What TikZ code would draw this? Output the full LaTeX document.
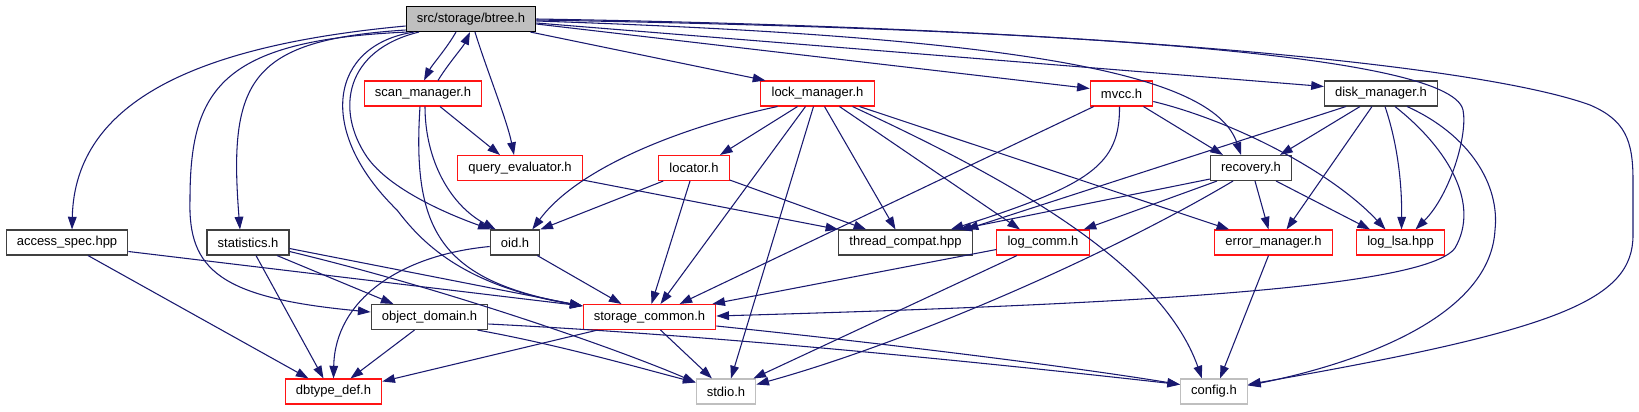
\documentclass[tikz,border=0pt]{standalone}
\usepackage{fontspec}
\newfontfamily\dfont{Liberation Sans}
\usetikzlibrary{arrows.meta,calc}
\definecolor{mblue}{RGB}{25,25,112}
\definecolor{dgray}{RGB}{64,64,64}
\definecolor{lgray}{RGB}{191,191,191}
\definecolor{nred}{RGB}{255,20,20}
\begin{document}
\begin{tikzpicture}[x=0.75pt,y=-0.75pt,
 nd/.style={rectangle,draw,line width=0.8pt,inner xsep=8pt,inner ysep=0pt,minimum height=18.75pt,font=\dfont\fontsize{9.75}{11}\selectfont,text=black,fill=white},
 blk/.style={nd,draw=dgray},
 rd/.style={nd,draw=nred},
 gr/.style={nd,draw=lgray},
 root/.style={nd,draw=black,fill=lgray},
 conn/.style={draw=mblue,line width=0.8pt,-{Triangle[length=9.5pt,width=6.5pt]}}]
\useasboundingbox[fill=white] (0,0) rectangle (1639,411);
% nodes
\node[root] (btree) at (471,19) {src/storage/btree.h};
\node[rd] (scan) at (423,93.5) {scan\_manager.h};
\node[rd] (query) at (520,168) {query\_evaluator.h};
\node[rd] (lock) at (817.5,93.5) {lock\_manager.h};
\node[rd] (locator) at (694,168) {locator.h};
\node[rd] (mvcc) at (1121.5,93.5) {mvcc.h};
\node[blk] (disk) at (1381,93.5) {disk\_manager.h};
\node[blk] (recovery) at (1251,168) {recovery.h};
\node[blk] (access) at (67,242.5) {access\_spec.hpp};
\node[blk] (stats) at (248,242.5) {statistics.h};
\node[blk] (oid) at (515,242.5) {oid.h};
\node[blk] (thread) at (905.5,242.5) {thread\_compat.hpp};
\node[rd] (logcomm) at (1043,242.5) {log\_comm.h};
\node[rd] (errmgr) at (1273.5,242.5) {error\_manager.h};
\node[rd] (loglsa) at (1400.5,242.5) {log\_lsa.hpp};
\node[blk] (objdom) at (429.5,317) {object\_domain.h};
\node[rd] (stcommon) at (649.5,317) {storage\_common.h};
\node[rd] (dbtype) at (333.5,391.5) {dbtype\_def.h};
\node[gr] (stdio) at (726,391.5) {stdio.h};
\node[gr] (config) at (1214,391.5) {config.h};
% btree
\draw[conn] ($(btree.west)+(0,7)$) .. controls (200,45) and (75,100) .. ($(access.north)+(5,0)$);
\draw[conn] ($(btree.west)+(0,11)$) .. controls (250,40) and (228,80) .. ($(stats.north)+(-8,0)$);
\draw[conn] ($(btree.south west)+(2,0)$) .. controls (220,40) and (190,90) .. (190,200) .. controls (188,270) and (220,298) .. ($(objdom.west)+(0,-5)$);
\draw[conn] ($(btree.south)+(-57,0)$) .. controls (330,45) and (315,130) .. (397,210) .. controls (420,240) and (460,285) .. ($(stcommon.north west)+(0,2)$);
\draw[conn] ($(btree.south)+(-52,0)$) .. controls (345,50) and (335,110) .. (367,157) .. controls (390,190) and (450,215) .. ($(oid.north west)+(1,0)$);
\draw[conn] ($(btree.south)+(-15,0)$) .. controls (447,48) and (432,65) .. ($(scan.north)+(1,0)$);
\draw[conn] ($(scan.north)+(15,0)$) .. controls (448,64) and (463,47) .. ($(btree.south)+(-1,0)$);
\draw[conn] ($(btree.south)+(4,0)$) .. controls (485,65) and (507,120) .. ($(query.north)+(-6,0)$);
\draw[conn] ($(btree.south east)+(-6,0)$) -- ($(lock.north west)+(5,0)$);
\draw[conn] ($(btree.east)+(0,5)$) -- ($(mvcc.west)+(0,-5)$);
\draw[conn] ($(btree.east)+(0,4)$) -- ($(disk.west)+(0,-7)$);
\draw[conn] ($(btree.east)+(0,2)$) .. controls (1050,38) and (1215,78) .. ($(recovery.north)+(-10,0)$);
\draw[conn] ($(btree.east)+(0,1)$) .. controls (1000,28) and (1450,50) .. (1463,110) .. controls (1468,135) and (1450,195) .. ($(loglsa.north)+(15,0)$);
\draw[conn] (btree.east) .. controls (1100,28) and (1480,65) .. (1590,105) .. controls (1625,120) and (1633,140) .. (1633,180) -- (1633,235) .. controls (1633,300) and (1560,330) .. ($(config.east)+(0,-7)$);
% scan
\draw[conn] ($(scan.south)+(17,0)$) -- ($(query.north)+(-20,0)$);
\draw[conn] ($(scan.south)+(2,0)$) .. controls (425,160) and (450,205) .. ($(oid.north west)+(6,0)$);
\draw[conn] ($(scan.south)+(-3,0)$) .. controls (412,230) and (440,280) .. ($(stcommon.north west)+(0,2)$);
% query
\draw[conn] ($(query.south east)+(0,-1)$) -- (thread.north west);
% lock
\draw[conn] ($(lock.south)+(-40,0)$) .. controls (690,125) and (580,165) .. ($(oid.north east)+(-8,0)$);
\draw[conn] ($(lock.south)+(-20,0)$) -- ($(locator.north)+(26,0)$);
\draw[conn] ($(lock.south)+(-12,0)$) -- ($(stcommon.north)+(11,0)$);
\draw[conn] ($(lock.south)+(-4,0)$) -- ($(stdio.north)+(5,0)$);
\draw[conn] ($(lock.south)+(7,0)$) -- ($(thread.north)+(-10,0)$);
\draw[conn] ($(lock.south)+(22,0)$) -- ($(logcomm.north)+(-23,0)$);
\draw[conn] ($(lock.south)+(35,0)$) .. controls (1000,175) and (1160,260) .. ($(config.north)+(-12,0)$);
\draw[conn] ($(lock.south)+(42,0)$) -- ($(errmgr.north west)+(15,0)$);
% locator
\draw[conn] ($(locator.south west)+(5,0)$) -- (oid.north east);
\draw[conn] ($(locator.south)+(-4,0)$) -- ($(stcommon.north)+(2,0)$);
\draw[conn] ($(locator.south east)+(0,-1)$) -- ($(thread.north west)+(28,0)$);
% mvcc
\draw[conn] ($(mvcc.south west)+(4,0)$) -- ($(stcommon.north)+(30,0)$);
\draw[conn] ($(mvcc.south)+(-2,0)$) .. controls (1120,165) and (1090,185) .. ($(thread.north east)+(-22,0)$);
\draw[conn] ($(mvcc.south)+(22,0)$) -- ($(recovery.north)+(-28,0)$);
\draw[conn] ($(mvcc.east)+(0,8)$) .. controls (1230,120) and (1330,170) .. ($(loglsa.north)+(-15,0)$);
% disk
\draw[conn] ($(disk.south west)+(22,0)$) -- ($(thread.north east)+(-7,0)$);
\draw[conn] ($(disk.south)+(-21,0)$) -- ($(recovery.north)+(29,0)$);
\draw[conn] ($(disk.south)+(-9,0)$) -- ($(errmgr.north)+(13,0)$);
\draw[conn] ($(disk.south)+(4,0)$) .. controls (1398,145) and (1402,185) .. ($(loglsa.north)+(1,0)$);
\draw[conn] ($(disk.south)+(14,0)$) .. controls (1450,150) and (1480,205) .. (1455,248) .. controls (1425,290) and (1100,305) .. ($(stcommon.east)+(0,-1)$);
\draw[conn] ($(disk.south east)+(-31,0)$) .. controls (1470,135) and (1500,185) .. (1495,230) .. controls (1490,320) and (1350,365) .. ($(config.east)+(0,-6)$);
% recovery
\draw[conn] ($(recovery.south west)+(0,-2)$) -- ($(thread.north east)+(-14,0)$);
\draw[conn] ($(recovery.south)+(-34,0)$) -- ($(logcomm.north east)+(-6,0)$);
\draw[conn] ($(recovery.south)+(-18,0)$) .. controls (1100,260) and (900,345) .. ($(stdio.east)+(0,-7)$);
\draw[conn] ($(recovery.south)+(4,0)$) -- ($(errmgr.north)+(-5,0)$);
\draw[conn] ($(recovery.south east)+(-16,0)$) -- ($(loglsa.north west)+(14,0)$);
% access
\draw[conn] ($(access.east)+(0,9)$) -- ($(stcommon.north west)+(0,2)$);
\draw[conn] ($(access.south)+(21,0)$) -- ($(dbtype.north)+(-25,0)$);
% statistics
\draw[conn] ($(stats.south)+(8,0)$) -- ($(dbtype.north)+(-10,0)$);
\draw[conn] ($(stats.south)+(29,0)$) -- ($(objdom.north)+(-36,0)$);
\draw[conn] ($(stats.east)+(0,6)$) -- ($(stcommon.north west)+(0,2)$);
\draw[conn] ($(stats.east)+(0,9)$) .. controls (450,290) and (620,350) .. ($(stdio.north west)+(0,4)$);
% oid
\draw[conn] ($(oid.west)+(0,4)$) .. controls (400,255) and (335,300) .. (dbtype.north);
\draw[conn] ($(oid.south east)+(-3,0)$) -- ($(stcommon.north)+(-28,0)$);
% object_domain
\draw[conn] ($(objdom.south)+(-15,0)$) -- ($(dbtype.north)+(17,0)$);
\draw[conn] ($(objdom.south east)+(-11,0)$) .. controls (560,345) and (640,368) .. ($(stdio.north west)+(0,4)$);
\draw[conn] ($(objdom.east)+(0,7)$) .. controls (750,337) and (1050,370) .. ($(config.west)+(0,-7)$);
% storage_common
\draw[conn] ($(stcommon.south west)+(15,0)$) -- ($(dbtype.north east)+(0,3)$);
\draw[conn] ($(stcommon.south)+(11,0)$) -- ($(stdio.north)+(-14,0)$);
\draw[conn] ($(stcommon.east)+(0,9)$) .. controls (900,345) and (1080,368) .. ($(config.west)+(0,-7)$);
% log_comm
\draw[conn] ($(logcomm.west)+(0,7)$) -- ($(stcommon.north east)+(-4,0)$);
\draw[conn] ($(logcomm.south)+(-26,0)$) -- ($(stdio.north east)+(-3,0)$);
% error_manager
\draw[conn] ($(errmgr.south)+(-5,0)$) -- ($(config.north)+(6,0)$);
\end{tikzpicture}
\end{document}
